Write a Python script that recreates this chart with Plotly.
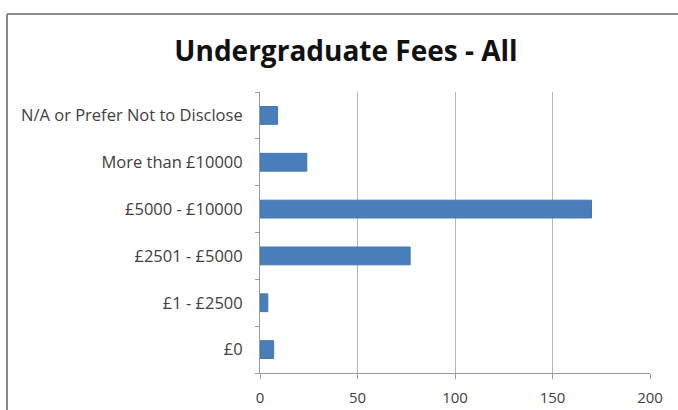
import plotly.graph_objects as go

categories = ["£0", "£1 - £2500", "£2501 - £5000", "£5000 - £10000",
              "More than £10000", "N/A or Prefer Not to Disclose"]
counts = [7, 4, 77, 170, 24, 9]
x_ticks = [0, 50, 100, 150, 200]
title_text = "Undergraduate Fees - All"

W, H = 678, 410
L, R, T, B = 260, 28, 92, 37
pw, ph = W - L - R, H - T - B

def px_x(p):
    return (p - L) / pw

def px_y(p):
    return (H - B - p) / ph

fig = go.Figure(go.Bar(
    x=counts, y=categories, orientation="h",
    marker=dict(color="#4a7ebb", line=dict(color="#4475b0", width=1)),
    width=0.38,
))

fig.update_layout(
    width=W, height=H,
    margin=dict(l=L, r=R, t=T, b=B, autoexpand=False),
    paper_bgcolor="white", plot_bgcolor="white",
    showlegend=False,
    title=dict(text="<b>" + title_text + "</b>", x=346 / W, xanchor="center",
               y=1 - 51 / H, yanchor="middle",
               font=dict(family="Open Sans", size=28, color="#111111")),
    font=dict(family="Open Sans", size=16, color="#404040"),
    xaxis=dict(range=[0, 200], tickvals=x_ticks, showgrid=True,
               gridcolor="#b4b4b4", gridwidth=1, zeroline=False,
               showline=True, linecolor="#9a9a9a", linewidth=1,
               ticks="outside", ticklen=5, tickcolor="#9a9a9a",
               ticklabelstandoff=6, tickfont=dict(size=15),
               automargin=False),
    yaxis=dict(categoryorder="array", categoryarray=categories,
               showline=True, linecolor="#9a9a9a", linewidth=1,
               ticks="outside", ticklen=4, tickcolor="#9a9a9a",
               tickson="boundaries", showgrid=False,
               ticklabelstandoff=13, tickfont=dict(size=16.5),
               automargin=False),
    shapes=[
        dict(type="line", xref="paper", yref="paper",
             x0=px_x(7), x1=px_x(W + 5), y0=px_y(14), y1=px_y(14),
             line=dict(color="#8a8a8a", width=2)),
        dict(type="line", xref="paper", yref="paper",
             x0=px_x(7), x1=px_x(7), y0=px_y(14), y1=px_y(H + 5),
             line=dict(color="#8a8a8a", width=2)),
    ],
)

fig.write_html(
    "out.html",
    config={"displayModeBar": False},
    post_script="document.body.style.margin='0';document.body.style.overflow='hidden';",
)
